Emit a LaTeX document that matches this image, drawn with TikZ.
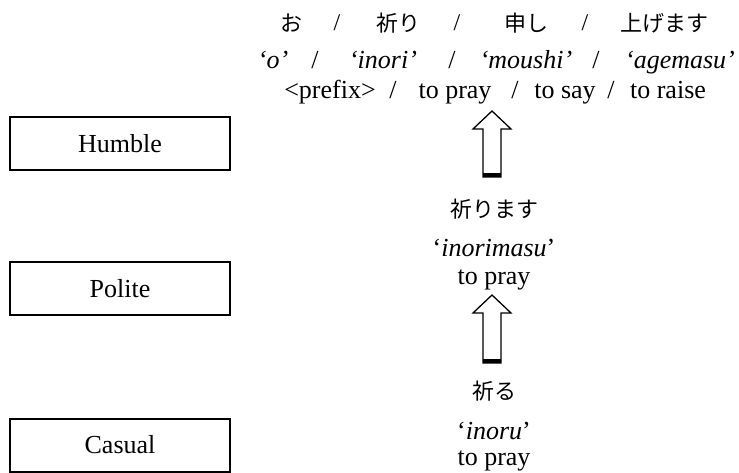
\documentclass[tikz,border=0pt]{standalone}
\usepackage{fontspec}
\setmainfont{Liberation Serif}
\newfontfamily\jp{Noto Sans CJK JP}
\usetikzlibrary{calc}
\begin{document}
\begin{tikzpicture}[x=1pt,y=-1pt,
  lbl/.style={inner sep=0pt, anchor=base, font=\fontsize{26}{30}\selectfont},
  ita/.style={lbl, font=\fontsize{26}{30}\selectfont\itshape},
  jpl/.style={inner sep=0pt, anchor=center, font=\jp\fontsize{22}{26}\selectfont},
  jsl/.style={inner sep=0pt, anchor=center, font=\fontsize{24}{28}\selectfont},
  lvl/.style={draw, line width=2pt, minimum width=220pt, minimum height=53pt, inner sep=0pt, font=\fontsize{26}{30}\selectfont},
  blk/.style={draw, line width=1.3pt, fill=white, line join=miter},
  blkbase/.style={line width=3.5pt},
]
\useasboundingbox (0,0) rectangle (739,473);
% level boxes
\node[lvl] (humble) at (120,143.5) {Humble};
\node[lvl] (polite) at (120,288.5) {Polite};
\node[lvl] (casual) at (120,445) {Casual};
% top group, row 1
\node[jpl] (t1a) at (291,23) {お};
\node[jsl] (t1s1) at (337,23) {/};
\node[jpl] (t1b) at (398,23) {祈り};
\node[jsl] (t1s2) at (457,23) {/};
\node[jpl] (t1c) at (526,23) {申し};
\node[jsl] (t1s3) at (585,23) {/};
\node[jpl] (t1d) at (664,23) {上げます};
% row 2
\node[ita] (t2a) at (273,69) {‘o’};
\node[lbl] (t2s1) at (315,69) {/};
\node[ita] (t2b) at (383,69) {‘inori’};
\node[lbl] (t2s2) at (452,69) {/};
\node[ita] (t2c) at (526,69) {‘moushi’};
\node[lbl] (t2s3) at (596,69) {/};
\node[ita] (t2d) at (680,69) {‘agemasu’};
% row 3
\node[lbl] (t3a) at (330,99) {<prefix>};
\node[lbl] (t3s1) at (393,99) {/};
\node[lbl] (t3b) at (455,99) {to pray};
\node[lbl] (t3s2) at (515,99) {/};
\node[lbl] (t3c) at (565,99) {to say};
\node[lbl] (t3s3) at (611,99) {/};
\node[lbl] (t3d) at (668,99) {to raise};
% middle group
\node[jpl] (m1) at (494,209) {祈ります};
\node[lbl] (m2) at (494,257) {‘\textit{inorimasu}’};
\node[lbl] (m3) at (494,284) {to pray};
% bottom group
\node[jpl] (b1) at (494,391) {祈る};
\node[lbl] (b2) at (494,439) {‘\textit{inoru}’};
\node[lbl] (b3) at (494,465) {to pray};
% block arrows
\coordinate (a1t) at (492,111);
\coordinate (a1b) at (492,177);
\coordinate (a2t) at (492,295);
\coordinate (a2b) at (492,363);
\foreach \t/\b in {a1t/a1b, a2t/a2b}{
  \draw[blk] ($(\b)+(-9,0)$) -- ($(\t)+(-9,18)$) -- ($(\t)+(-19,18)$) -- (\t)
     -- ($(\t)+(19,18)$) -- ($(\t)+(9,18)$) -- ($(\b)+(9,0)$) -- cycle;
  \draw[blkbase] ($(\b)+(-9,-2)$) -- ($(\b)+(9,-2)$);
}
\end{tikzpicture}
\end{document}
